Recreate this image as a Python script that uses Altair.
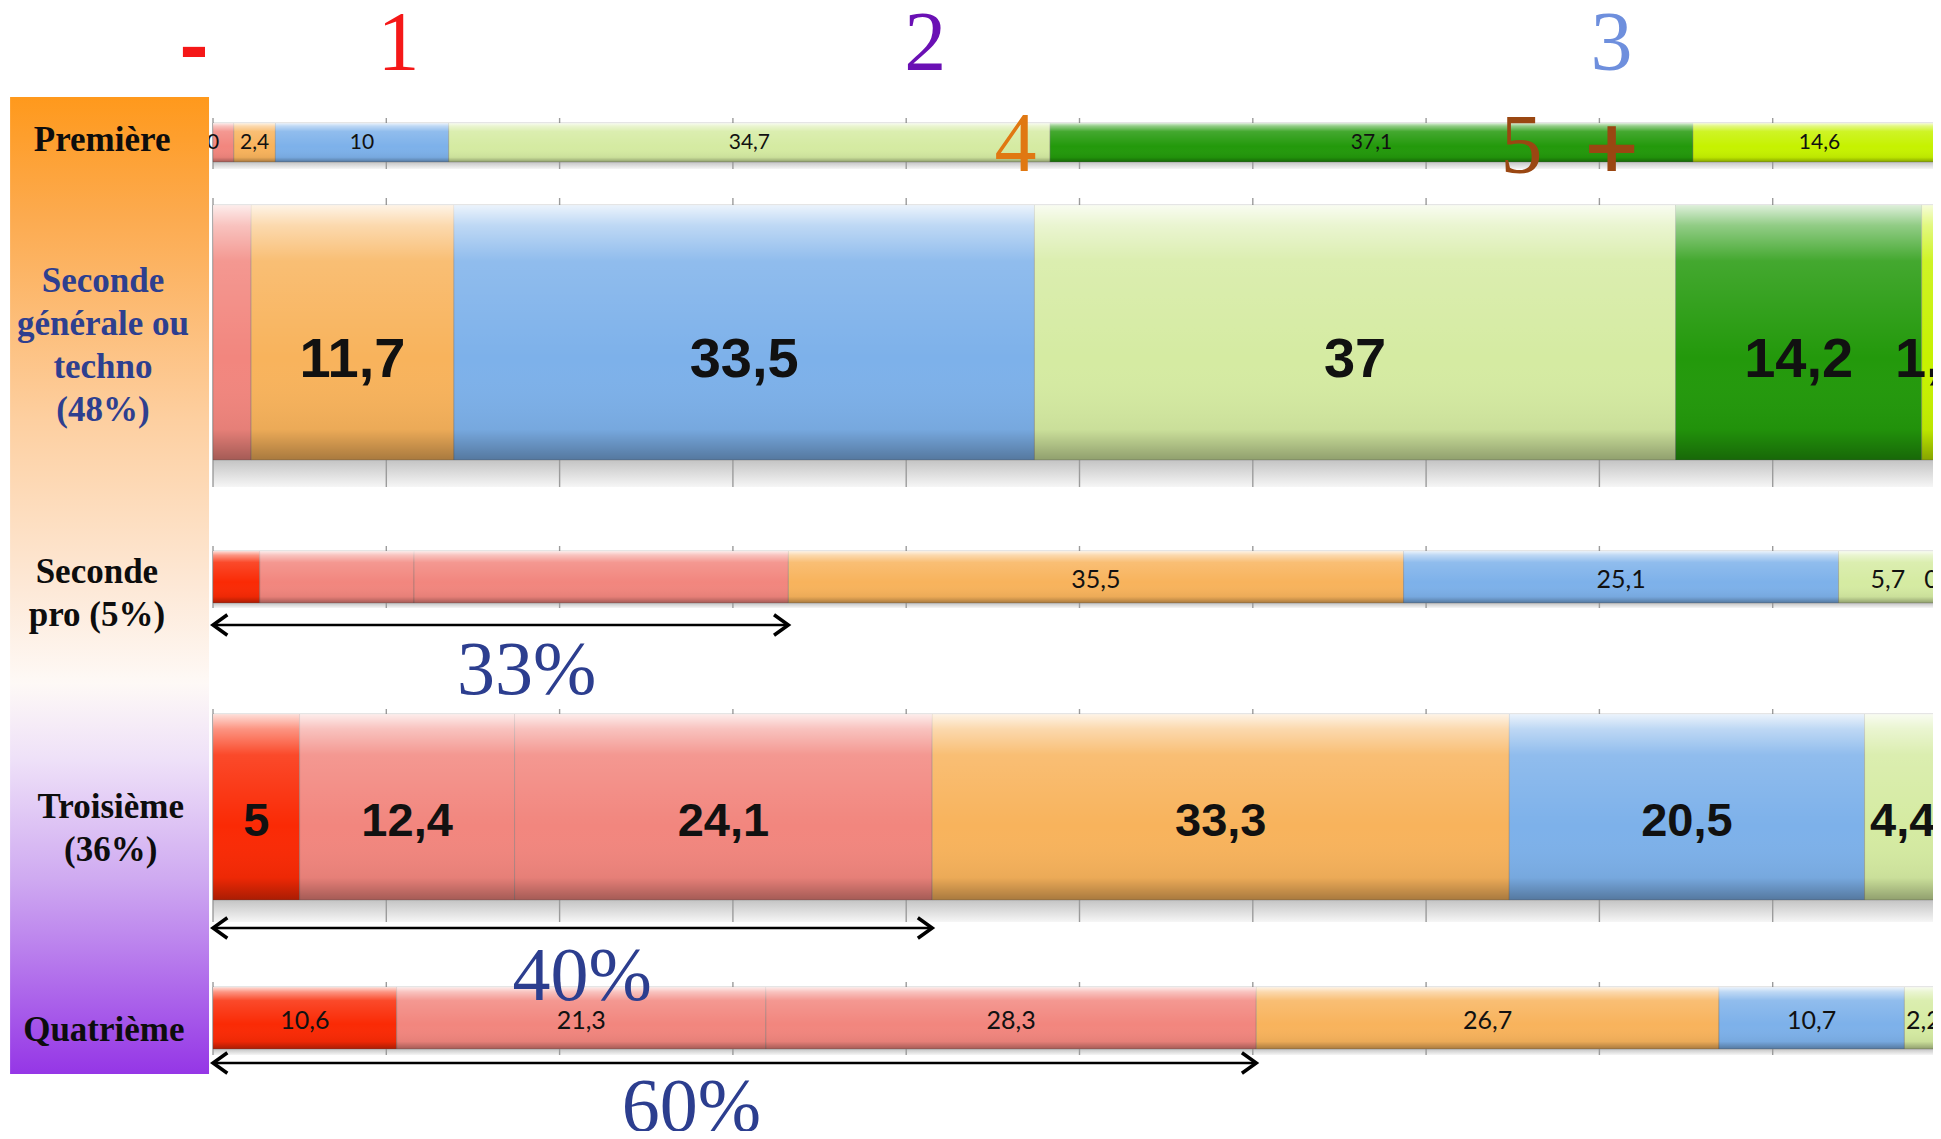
import altair as alt
import pandas as pd

# ---------------- data ----------------
rows = ["Première", "Seconde générale ou techno", "Seconde pro", "Troisième", "Quatrième"]
categories = ["cat1", "cat2", "cat3", "cat4", "cat5", "cat6", "cat7", "cat8"]
cat_colors = ["#FA2A05", "#F2867E", "#F2867E", "#F8B35C", "#7DB1EA", "#D5EBA2", "#23990B", "#C6F200"]

values_premiere = [0, 0, 1.2, 2.4, 10, 34.7, 37.1, 14.6]
values_seconde_gt = [0, 0, 2.2, 11.7, 33.5, 37, 14.2, 1.4]
values_seconde_pro = [2.7, 8.9, 21.6, 35.5, 25.1, 5.7, 0.5, 0]
values_troisieme = [5, 12.4, 24.1, 33.3, 20.5, 4.4, 0.3, 0]
values_quatrieme = [10.6, 21.3, 28.3, 26.7, 10.7, 2.2, 0.2, 0]

shown_premiere = [1, 0, 0, 1, 1, 1, 1, 1]
shown_seconde_gt = [0, 0, 0, 1, 1, 1, 1, 1]
shown_seconde_pro = [0, 0, 0, 1, 1, 1, 1, 0]
shown_troisieme = [1, 1, 1, 1, 1, 1, 0, 0]
shown_quatrieme = [1, 1, 1, 1, 1, 1, 0, 0]

row_titles = ["Première", "Seconde\ngénérale ou\ntechno\n(48%)", "Seconde\npro (5%)", "Troisième\n(36%)", "Quatrième"]
row_title_colors = ["#0d0d0d", "#2E3F8F", "#0d0d0d", "#0d0d0d", "#0d0d0d"]

arrow_rows = ["Seconde pro", "Troisième", "Quatrième"]
arrow_texts = ["33%", "40%", "60%"]
arrow_text_x = [18.1, 21.3, 27.6]

top_marks = ["1", "2", "3", "4", "5"]
top_marks_x = [10.7, 41.1, 80.7, 46.3, 75.5]
top_marks_colors = ["#F51818", "#6A10B4", "#6E8FDD", "#E07812", "#9A4712"]
sym_marks = ["-", "+"]
sym_marks_x = [-1.1, 80.7]
sym_marks_colors = ["#F51818", "#9A4712"]

grid_ticks = [0, 10, 20, 30, 40, 50, 60, 70, 80, 90, 100]

# ---------------- layout (pixel-like layout units) ----------------
BIG = "Liberation Sans, Arial, sans-serif"
layout = {
    "Première": dict(top=123, bot=162, floor=169, gtop=118, ly=143, ty=140, tx=-6.4, fs=21, font="Lato", fw="normal"),
    "Seconde générale ou techno": dict(top=205, bot=460, floor=487, gtop=198, ly=360, ty=281, tx=-6.35, fs=56,
                                       font=BIG, fw="bold"),
    "Seconde pro": dict(top=551, bot=603, floor=608, gtop=546, ly=580, ty=572, tx=-6.7, fs=25, font="Lato", fw="normal"),
    "Troisième": dict(top=714, bot=900, floor=922, gtop=709, ly=822, ty=807, tx=-5.9, fs=47,
                      font=BIG, fw="bold"),
    "Quatrième": dict(top=987, bot=1049, floor=1055, gtop=982, ly=1021, ty=1030, tx=-6.3, fs=25, font="Lato", fw="normal"),
}
arrow_y = {"Seconde pro": 625, "Troisième": 928, "Quatrième": 1063}
pct_y = {"Seconde pro": 671, "Troisième": 977, "Quatrième": 1108}
top_marks_y = [45, 45, 45, 146, 148]
sym_marks_y = [50, 149]

# ---------------- build tables ----------------
series = [values_premiere, values_seconde_gt, values_seconde_pro, values_troisieme, values_quatrieme]
shown = [shown_premiere, shown_seconde_gt, shown_seconde_pro, shown_troisieme, shown_quatrieme]
recs = []
for r, vals, sh in zip(rows, series, shown):
    start = 0.0
    L = layout[r]
    for c, v, s in zip(categories, vals, sh):
        recs.append(dict(row=r, cat=c, value=v, x0=start, x1=start + v, mid=start + v / 2,
                         label=f"{v:g}".replace(".", ","), show=bool(s),
                         top=L["top"], bot=L["bot"], ly=L["ly"]))
        start += v
segs = pd.DataFrame(recs)
bars_df = segs[segs.value > 0]

floor_df = pd.DataFrame([dict(row=r, x0=0, x1=100, y0=layout[r]["bot"], y1=layout[r]["floor"]) for r in rows])
grid_df = pd.DataFrame([dict(row=r, x=t, y0=layout[r]["gtop"], y1=layout[r]["floor"]) for r in rows for t in grid_ticks])
panel_df = pd.DataFrame([dict(x0=-11.71, x1=-0.23, y0=97, y1=1074)])
title_df = pd.DataFrame([dict(t=t, c=c, x=layout[r]["tx"], y=layout[r]["ty"]) for r, t, c in zip(rows, row_titles, row_title_colors)])

arrow_recs = []
for r, txt, tx in zip(arrow_rows, arrow_texts, arrow_text_x):
    vals = series[rows.index(r)]
    arrow_recs.append(dict(row=r, x0=0, x1=sum(vals[:3]), y=arrow_y[r], t=txt, tx=tx, ty=pct_y[r]))
arrow_df = pd.DataFrame(arrow_recs)

top_df = pd.DataFrame(dict(t=top_marks, x=top_marks_x, y=top_marks_y, c=top_marks_colors))
sym_df = pd.DataFrame(dict(t=sym_marks, x=sym_marks_x, y=sym_marks_y, c=sym_marks_colors))

# ---------------- scales ----------------
xs = alt.Scale(domain=[-11.83, 99.25], nice=False, zero=False)
ys = alt.Scale(domain=[8, 1131], nice=False, zero=False, reverse=True)


def X(f):
    return alt.X(f, type="quantitative", scale=xs, axis=None)


def Y(f):
    return alt.Y(f, type="quantitative", scale=ys, axis=None)


def grad(stops):
    return alt.LinearGradient(gradient="linear", x1=0, x2=0, y1=0, y2=1,
                              stops=[alt.GradientStop(color=c, offset=o) for o, c in stops])


floor = alt.Chart(floor_df).mark_rect(clip=True, fill=grad([(0, "#C4C4C4"), (0.5, "#DDDDDD"), (1, "#F6F6F6")])).encode(
    x=X("x0"), x2="x1", y=Y("y0"), y2="y1")

grid = alt.Chart(grid_df).mark_rule(clip=True, color="#9C9C9C", strokeWidth=1.4).encode(
    x=X("x"), y=Y("y0"), y2="y1")

bars = alt.Chart(bars_df).mark_rect(clip=True, stroke="#6b6b6b", strokeWidth=0.8, strokeOpacity=0.45).encode(
    x=X("x0"), x2="x1", y=Y("top"), y2="bot",
    color=alt.Color("cat:N", scale=alt.Scale(domain=categories, range=cat_colors), legend=None))

shade = alt.Chart(bars_df).mark_rect(clip=True, fill=grad([
    (0, "rgba(255,255,255,0.85)"), (0.08, "rgba(255,255,255,0.5)"), (0.22, "rgba(255,255,255,0.15)"),
    (0.6, "rgba(255,255,255,0)"), (0.88, "rgba(0,0,0,0.05)"), (1, "rgba(0,0,0,0.32)")])).encode(
    x=X("x0"), x2="x1", y=Y("top"), y2="bot")

label_layers = []
for r in rows:
    L = layout[r]
    d = segs[(segs.row == r) & (segs.show)]
    label_layers.append(
        alt.Chart(d).mark_text(clip=True, font=L["font"], fontSize=L["fs"], fontWeight=L["fw"],
                               color="#111111", baseline="middle", align="center").encode(
            x=X("mid"), y=Y("ly"), text="label:N"))

panel = alt.Chart(panel_df).mark_rect(fill=grad([
    (0, "#FF991C"), (0.12, "#FCAA4E"), (0.33, "#FDCFA0"), (0.5, "#FDE8D6"), (0.6, "#FEF9F6"),
    (0.68, "#EEE0F8"), (0.8, "#CFAAF1"), (1, "#9536E6")])).encode(
    x=X("x0"), x2="x1", y=Y("y0"), y2="y1")

titles = alt.Chart(title_df).mark_text(font="Liberation Serif", fontSize=35, fontWeight="bold", lineBreak="\n",
                                       lineHeight=43, align="center", baseline="middle").encode(
    x=X("x"), y=Y("y"), text="t:N", color=alt.Color("c:N", scale=None))

arrow_line = alt.Chart(arrow_df).mark_rule(color="#000000", strokeWidth=2.6).encode(
    x=X("x0"), x2="x1", y=Y("y"))
arrow_left = alt.Chart(arrow_df).mark_point(shape="M1.4,-1L0,0L1.4,1", filled=False, color="#000000",
                                            strokeWidth=3.5, size=420, opacity=1).encode(x=X("x0"), y=Y("y"))
arrow_right = alt.Chart(arrow_df).mark_point(shape="M-1.4,-1L0,0L-1.4,1", filled=False, color="#000000",
                                             strokeWidth=3.5, size=420, opacity=1).encode(x=X("x1"), y=Y("y"))
pct = alt.Chart(arrow_df).mark_text(font="Liberation Serif", fontSize=76, color="#2C3E8F",
                                    align="center", baseline="middle").encode(
    x=X("tx"), y=Y("ty"), text="t:N")

tops = alt.Chart(top_df).mark_text(font="Liberation Serif", fontSize=84, align="center", baseline="middle").encode(
    x=X("x"), y=Y("y"), text="t:N", color=alt.Color("c:N", scale=None))
syms = alt.Chart(sym_df).mark_text(font="DejaVu Sans", fontSize=72, fontWeight="bold",
                                   align="center", baseline="middle").encode(
    x=X("x"), y=Y("y"), text="t:N", color=alt.Color("c:N", scale=None))

chart = alt.layer(floor, grid, bars, shade, *label_layers, panel, titles,
                  arrow_line, arrow_left, arrow_right, pct, tops, syms).properties(
    width=1925, height=1123, padding=0, autosize="none", background="white"
).configure_view(stroke=None)

chart.save("out.html", embed_options={"renderer": "svg", "actions": False})
